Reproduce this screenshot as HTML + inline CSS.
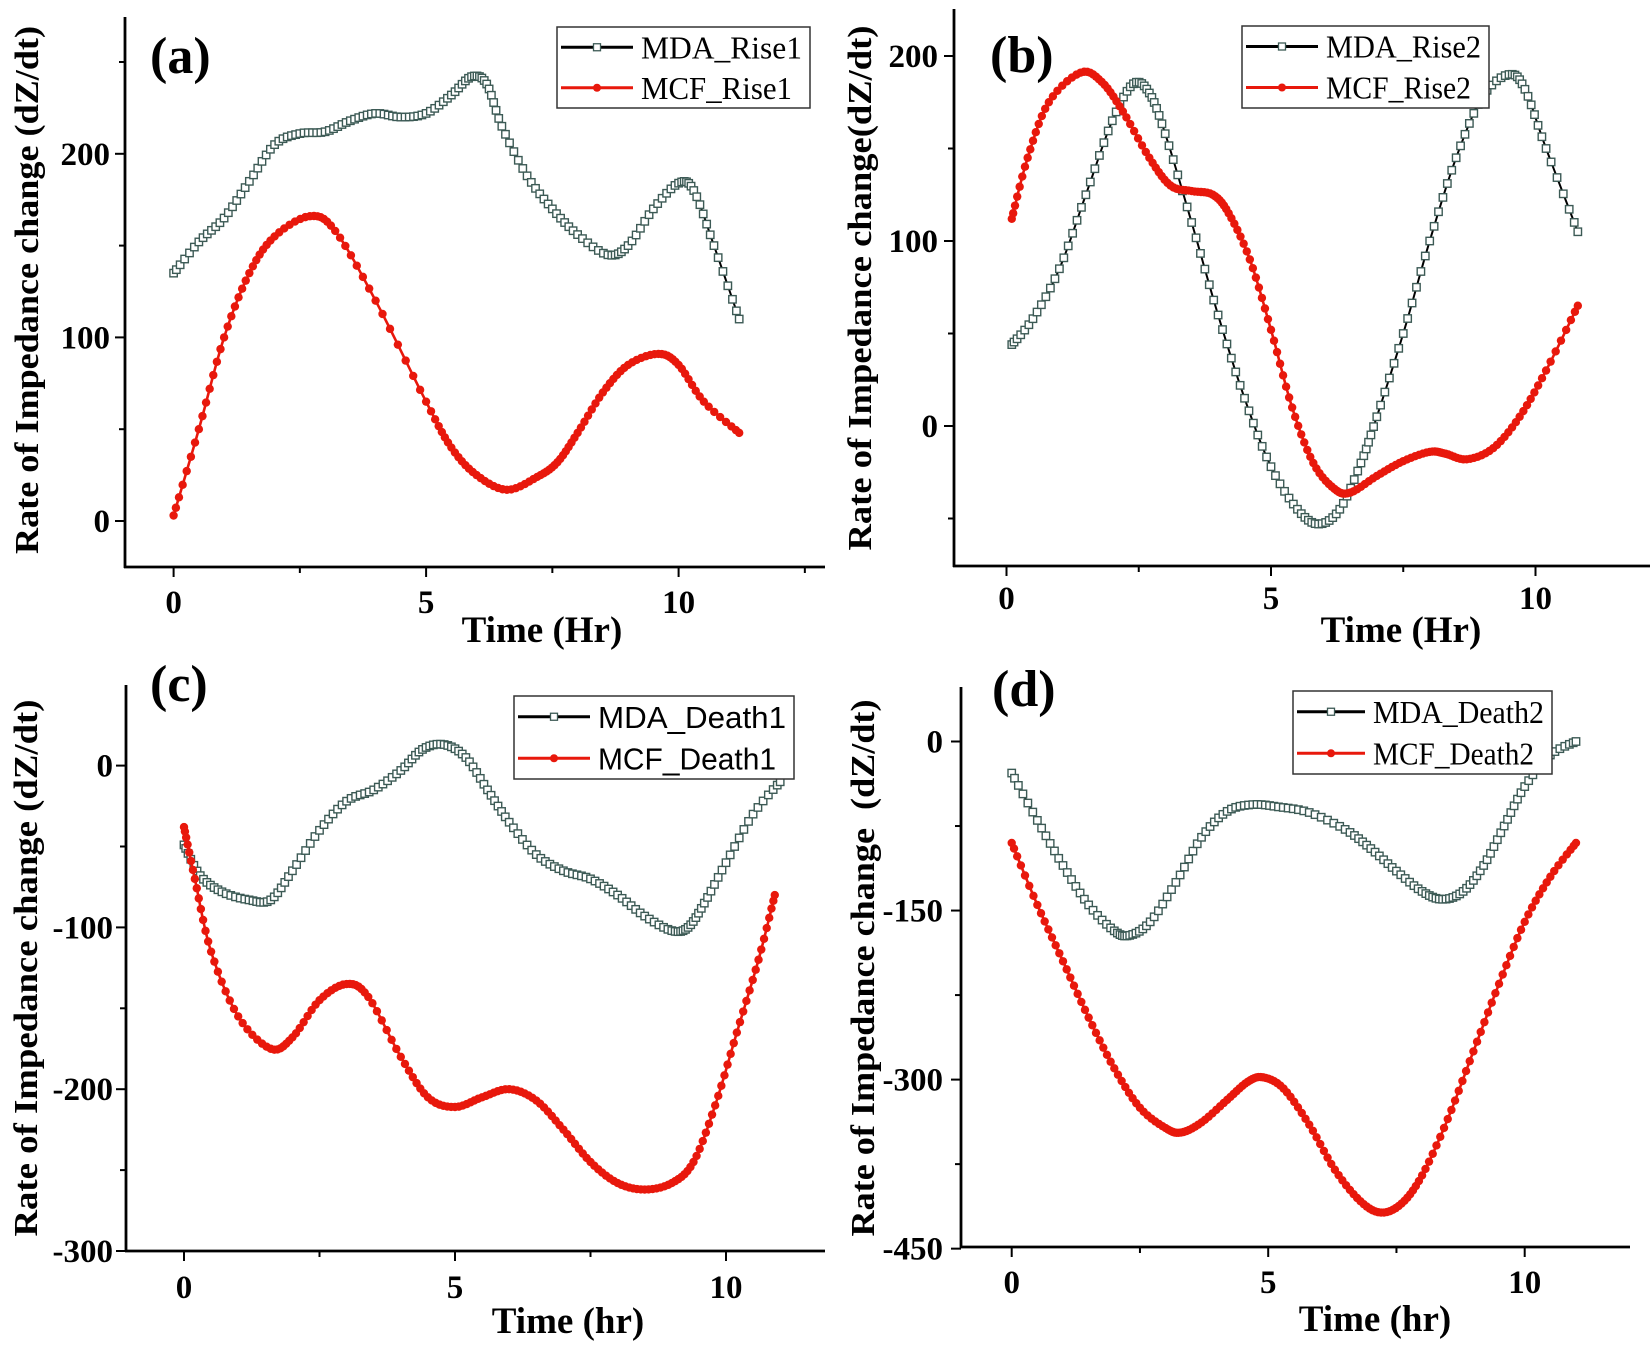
<!DOCTYPE html>
<html><head><meta charset="utf-8"><style>
html,body{margin:0;padding:0;background:#fff;}
svg{display:block;}
text{font-family:"Liberation Serif",serif;}
</style></head><body>
<svg id="s" width="1650" height="1347" xmlns="http://www.w3.org/2000/svg"></svg>
<script>
var S=document.getElementById('s');var out='';
function cr(pts,n){var r=[];for(var i=0;i<pts.length-1;i++){var p0=pts[Math.max(i-1,0)],p1=pts[i],p2=pts[i+1],p3=pts[Math.min(i+2,pts.length-1)];
for(var k=0;k<n;k++){var t=k/n,t2=t*t,t3=t2*t;
var f=function(a,b,c,d){return 0.5*((2*b)+(-a+c)*t+(2*a-5*b+4*c-d)*t2+(-a+3*b-3*c+d)*t3);};
r.push([f(p0[0],p1[0],p2[0],p3[0]),f(p0[1],p1[1],p2[1],p3[1])]);}}r.push(pts[pts.length-1]);return r;}
function panel(c){
 var X=function(v){return c.x0+v*c.px;},Y=function(v){return c.y0-(v-c.v0)*c.py;};
 out+='<line x1="'+c.ax+'" y1="'+c.top+'" x2="'+c.ax+'" y2="'+(c.ay+1)+'" stroke="#000" stroke-width="2.8"/>';
 out+='<line x1="'+(c.ax-1)+'" y1="'+c.ay+'" x2="'+c.right+'" y2="'+c.ay+'" stroke="#000" stroke-width="2.8"/>';
 for(var h=0;h<=12.5;h+=2.5){var xx=X(h);if(xx>c.right)break;var maj=(h%5==0);
  out+='<line x1="'+xx+'" y1="'+c.ay+'" x2="'+xx+'" y2="'+(c.ay+(maj?10:6))+'" stroke="#000" stroke-width="2"/>';
  if(maj)out+='<text x="'+xx+'" y="'+(c.xly+11)+'" font-size="33" font-weight="bold" text-anchor="middle">'+h+'</text>';}
 c.yt.forEach(function(t){var yy=Y(t[0]);out+='<line x1="'+c.ax+'" y1="'+yy+'" x2="'+(c.ax-(t[1]?10:6))+'" y2="'+yy+'" stroke="#000" stroke-width="2"/>';
  if(t[1])out+='<text x="'+c.ylx+'" y="'+(yy+11)+'" font-size="33" font-weight="bold" text-anchor="end">'+t[0]+'</text>';});
 out+='<text x="'+c.xt[0]+'" y="'+(c.xt[1]+12)+'" font-size="37" font-weight="bold" text-anchor="middle">'+c.xtitle+'</text>';
 out+='<text transform="translate('+(c.yt2[0]+12)+','+c.yt2[1]+') rotate(-90)" font-size="34" font-weight="bold" text-anchor="middle" xml:space="preserve" textLength="'+c.ylen+'" lengthAdjust="spacingAndGlyphs">'+c.ytitle+'</text>';
 out+='<text x="'+c.lab[0]+'" y="'+(c.lab[1]+17)+'" font-size="52" font-weight="bold">'+c.label+'</text>';
 var m=c.mda.map(function(p){return[X(p[0]),Y(p[1])];}),r=c.mcf.map(function(p){return[X(p[0]),Y(p[1])];});
 var cm=cr(m,12),crr=cr(r,12);
 out+='<polyline fill="none" stroke="#000" stroke-width="2" points="'+cm.map(function(p){return p.join(',');}).join(' ')+'"/>';
 var sm=cr(m,Math.round(c.nm));sm.forEach(function(p){out+='<rect x="'+(p[0]-3.7)+'" y="'+(p[1]-3.7)+'" width="7.4" height="7.4" fill="#fff" stroke="#3c5a55" stroke-width="1.4"/>';});
 out+='<polyline fill="none" stroke="#e8180c" stroke-width="2.6" points="'+crr.map(function(p){return p.join(',');}).join(' ')+'"/>';
 var sr=cr(r,Math.round(c.nr));sr.forEach(function(p){out+='<circle cx="'+p[0]+'" cy="'+p[1]+'" r="4.2" fill="#e8180c"/>';});
 var L=c.leg;out+='<rect x="'+L[0]+'" y="'+L[1]+'" width="'+(L[2]-L[0])+'" height="'+(L[3]-L[1])+'" fill="#fff" stroke="#333" stroke-width="1.5"/>';
 var h2=(L[3]-L[1])/4,lx=L[0]+4,lw=c.lw;
 out+='<line x1="'+lx+'" y1="'+(L[1]+h2)+'" x2="'+(lx+lw)+'" y2="'+(L[1]+h2)+'" stroke="#000" stroke-width="3"/><rect x="'+(lx+lw/2-3.5)+'" y="'+(L[1]+h2-3.5)+'" width="7" height="7" fill="#fff" stroke="#3c5a55" stroke-width="1.3"/>';
 out+='<line x1="'+lx+'" y1="'+(L[1]+3*h2)+'" x2="'+(lx+lw)+'" y2="'+(L[1]+3*h2)+'" stroke="#e8180c" stroke-width="3"/><circle cx="'+(lx+lw/2)+'" cy="'+(L[1]+3*h2)+'" r="4" fill="#e8180c"/>';
 var ff=c.sans?' style="font-family:\'Liberation Sans\',sans-serif"':'';
 var tl=L[2]-(lx+lw+8)-8;
 out+='<text x="'+(lx+lw+8)+'" y="'+(L[1]+h2+11)+'" font-size="'+c.lfs+'"'+ff+' textLength="'+tl+'" lengthAdjust="spacingAndGlyphs">'+c.n1+'</text>';
 out+='<text x="'+(lx+lw+8)+'" y="'+(L[1]+3*h2+11)+'" font-size="'+c.lfs+'"'+ff+' textLength="'+(tl-(c.n2.length<c.n1.length?0:0)-10)+'" lengthAdjust="spacingAndGlyphs">'+c.n2+'</text>';
}
panel({x0:173.6,px:50.5,y0:521,v0:0,py:1.836,ax:125,ay:567,top:17,right:825,xly:602,ylx:110,ylen:528,
 yt:[[0,1],[50,0],[100,1],[150,0],[200,1],[250,0]],xtitle:'Time (Hr)',xt:[542,630],ytitle:'Rate of Impedance change (dZ/dt)',yt2:[26,290],
 label:'(a)',lab:[150,56],leg:[557,27,810,108],lw:72,lfs:32,n1:'MDA_Rise1',n2:'MCF_Rise1',nm:6,nr:7,
 mda:[[0,135],[0.5,152],[1,165],[1.5,185],[2,205],[2.5,211],[3,212],[3.5,218],[4,222],[4.5,220],[5,222],[5.5,232],[5.9,242],[6.2,238],[6.5,215],[7,188],[7.5,170],[8,156],[8.6,145],[9,150],[9.5,170],[10,184],[10.3,180],[10.7,150],[11.2,110]],
 mcf:[[0,3],[0.5,50],[1,100],[1.5,135],[2,155],[2.7,166],[3.2,158],[4,120],[5,65],[5.5,40],[6,25],[6.6,17],[7.2,24],[7.6,32],[8,48],[8.5,70],[9,85],[9.6,91],[10,85],[10.5,65],[11.2,48]]});
panel({x0:1006.5,px:52.9,y0:426,v0:0,py:1.85,ax:954,ay:566,top:9,right:1650,xly:598,ylx:938,ylen:525,
 yt:[[-50,0],[0,1],[50,0],[100,1],[150,0],[200,1]],xtitle:'Time (Hr)',xt:[1401,630],ytitle:'Rate of Impedance change(dZ/dt)',yt2:[859,288],
 label:'(b)',lab:[990,55],leg:[1242,26,1489,108],lw:72,lfs:32,n1:'MDA_Rise2',n2:'MCF_Rise2',nm:6,nr:7,
 mda:[[0.1,44],[0.5,58],[1,85],[1.5,125],[2,165],[2.4,185],[2.7,180],[3,158],[3.5,110],[4,60],[4.5,15],[5,-22],[5.5,-45],[5.9,-53],[6.3,-45],[6.7,-20],[7,5],[7.5,50],[8,100],[8.5,145],[9,178],[9.5,190],[9.8,182],[10.2,150],[10.8,105]],
 mcf:[[0.1,112],[0.4,145],[0.8,175],[1.4,191],[1.8,186],[2.2,170],[2.7,145],[3.1,130],[3.5,127],[3.9,125],[4.2,115],[4.6,90],[5,52],[5.4,10],[5.8,-20],[6.2,-34],[6.5,-36],[7,-27],[7.5,-19],[8,-14],[8.3,-15],[8.7,-18],[9.2,-12],[9.7,5],[10.2,30],[10.8,65]]});
panel({x0:184,px:54.2,y0:765.6,v0:0,py:1.618,ax:126,ay:1251,top:685,right:825,xly:1287,ylx:113,ylen:537,
 yt:[[-300,1],[-250,0],[-200,1],[-150,0],[-100,1],[-50,0],[0,1]],xtitle:'Time (hr)',xt:[568,1321],ytitle:'Rate of Impedance change (dZ/dt)',yt2:[25,968],
 label:'(c)',lab:[150,684],leg:[514,696,794,779],lw:72,lfs:31,sans:1,n1:'MDA_Death1',n2:'MCF_Death1',nm:6,nr:7,
 mda:[[0,-49],[0.3,-68],[0.7,-78],[1.2,-83],[1.6,-83],[2,-65],[2.5,-40],[3,-22],[3.5,-15],[4,-3],[4.4,10],[4.8,13],[5.2,5],[5.6,-15],[6,-35],[6.5,-55],[7,-65],[7.5,-70],[8,-80],[8.5,-93],[9,-102],[9.3,-100],[9.6,-85],[10,-60],[10.5,-30],[11,-10]],
 mcf:[[0,-38],[0.2,-70],[0.5,-115],[1,-155],[1.6,-175],[2,-168],[2.5,-145],[3,-135],[3.4,-143],[4,-180],[4.5,-205],[5,-211],[5.5,-205],[6,-200],[6.5,-207],[7,-225],[7.5,-245],[8,-258],[8.5,-262],[9,-258],[9.4,-245],[9.8,-210],[10.2,-165],[10.6,-120],[10.9,-80]]});
panel({x0:1011.7,px:51.3,y0:741.5,v0:0,py:1.127,ax:961,ay:1247,top:687,right:1630,xly:1282,ylx:943,ylen:537,
 yt:[[-450,1],[-375,0],[-300,1],[-225,0],[-150,1],[-75,0],[0,1]],xtitle:'Time (hr)',xt:[1375,1319],ytitle:'Rate of Impedance change  (dZ/dt)',yt2:[862,968],
 label:'(d)',lab:[992,689],leg:[1293,691,1552,774],lw:68,lfs:32,n1:'MDA_Death2',n2:'MCF_Death2',nm:6,nr:7,
 mda:[[0,-28],[0.5,-70],[1,-110],[1.5,-145],[2,-168],[2.3,-172],[2.7,-160],[3.2,-125],[3.7,-85],[4.2,-62],[4.7,-56],[5.2,-58],[5.8,-63],[6.5,-78],[7,-95],[7.5,-115],[8,-133],[8.4,-140],[8.8,-133],[9.2,-110],[9.6,-75],[10,-40],[10.5,-12],[11,0]],
 mcf:[[0,-90],[0.5,-145],[1,-195],[1.5,-245],[2,-290],[2.5,-325],[3,-343],[3.3,-347],[3.7,-338],[4.2,-318],[4.6,-302],[4.9,-298],[5.3,-308],[5.8,-340],[6.3,-380],[6.8,-408],[7.2,-418],[7.6,-410],[8,-385],[8.5,-335],[9,-275],[9.5,-215],[10,-160],[10.5,-120],[11,-90]]});
S.innerHTML=out;
</script>
</body></html>
